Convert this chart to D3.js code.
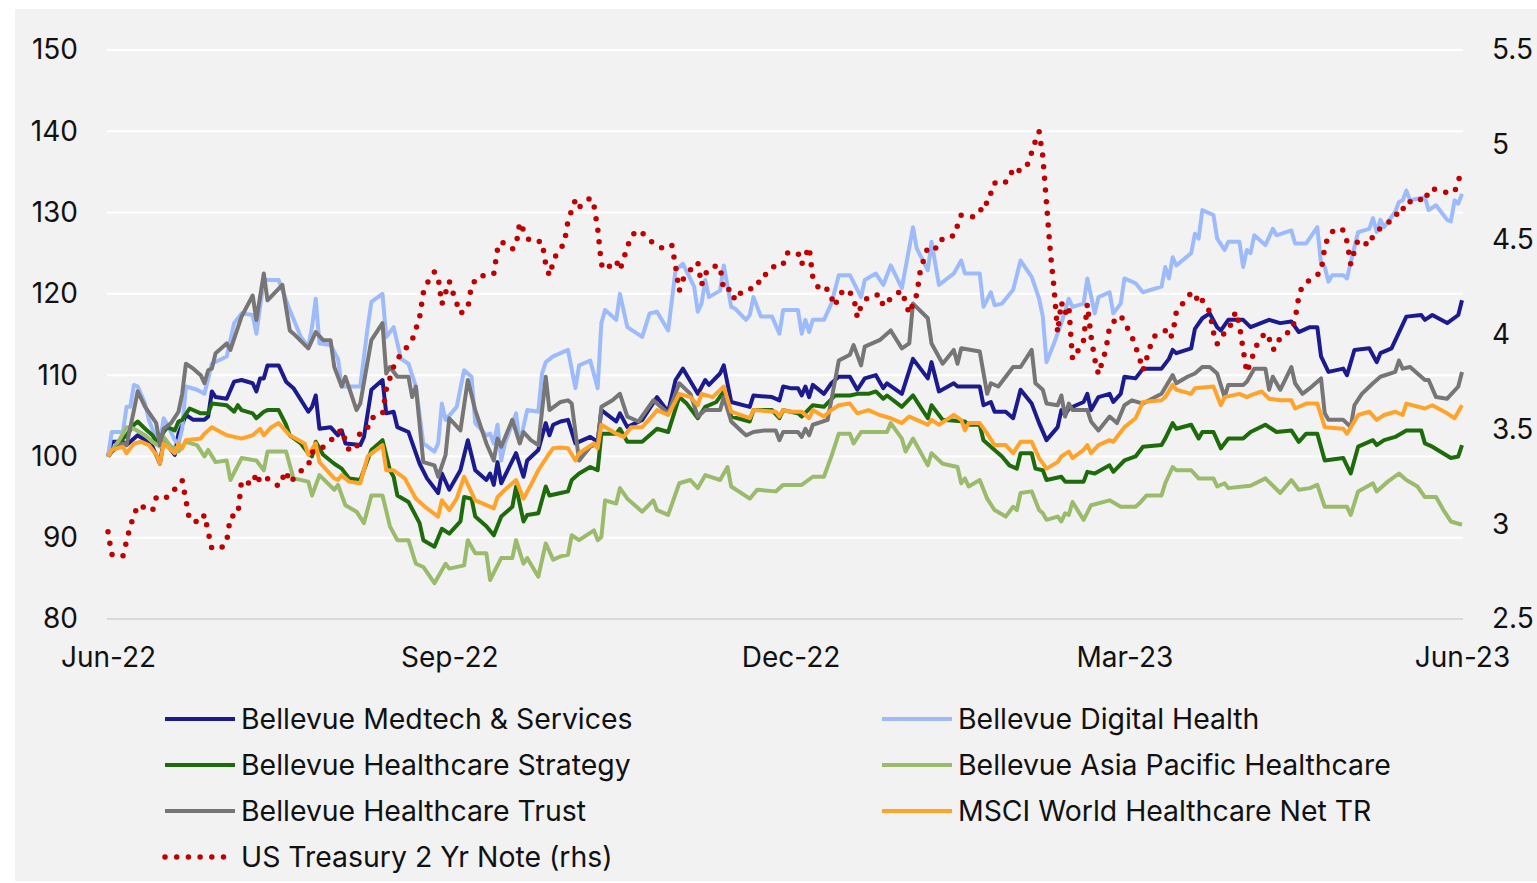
<!DOCTYPE html>
<html>
<head>
<meta charset="utf-8">
<script src="https://cdn.jsdelivr.net/npm/d3@7"></script>
<style>
  html, body { margin: 0; padding: 0; background: #fff; }
  svg { display: block; font-family: Inter, "Noto Sans", sans-serif; }
</style>
</head>
<body>
<svg id="chart" width="1537" height="883"></svg>
<script>
// [days since 30 Jun 2022, value]; funds rebased to 100, treasury in %
const startDate = new Date(2022, 5, 30);
const endDate = new Date(2023, 5, 30);

const medtech = [[0,100],[1,101.8],[4,101.8],[5,101.4],[8,102.6],[10,102],[12,101.2],[14,99.1],[15,102],[18,100.2],[19,102.8],[21,105.1],[23,104.5],[26,104.5],[27,104.9],[28,108],[29,107.3],[32,107.1],[34,109.2],[36,109.4],[39,109],[40,108],[41,109.6],[42,109.6],[43,111.2],[46,111.2],[48,109.2],[50,108.4],[54,105.5],[55,106.1],[56,107.5],[57,103.4],[60,103.6],[62,102.6],[63,103.2],[64,101.6],[68,101.4],[69,102.4],[71,108.2],[74,109.4],[75,105.3],[77,105.5],[78,103.6],[81,103],[84,99.1],[86,97.3],[89,95.5],[90,97.9],[92,95.9],[95,98.3],[97,102],[99,98.3],[102,97.1],[103,97.9],[104,96.5],[105,99.3],[106,96.7],[110,100.4],[112,97.5],[113,99.5],[116,100.8],[118,104.1],[119,102.6],[120,103.9],[122,104.3],[124,104.5],[126,101.6],[130,102.4],[132,101.8],[133,105.7],[137,104.3],[138,105.3],[140,103.6],[144,104.5],[148,107.3],[151,105.5],[153,109.4],[155,110.8],[159,107.7],[161,109.4],[162,108.8],[165,110.2],[166,111.2],[168,106.7],[173,106.1],[174,107.5],[179,107.3],[181,106.9],[182,108.6],[184,108.4],[186,108.4],[187,107.5],[188,108.6],[189,107.3],[190,108.8],[193,107.7],[195,109],[197,109.8],[200,109.8],[202,108.2],[204,109.6],[207,110],[209,108.4],[210,109],[214,107.7],[217,112],[219,110.8],[221,109.6],[222,111.6],[224,108],[228,109],[229,108.6],[235,108.6],[236,106.3],[238,106.7],[239,105.5],[242,105.5],[244,104.7],[246,108.2],[249,106.5],[251,104.1],[253,102],[256,103.6],[257,105.7],[258,105.1],[259,105.9],[263,106.7],[264,107.7],[265,105.7],[267,107.3],[270,107.7],[271,106.7],[273,107.7],[274,109.8],[277,109.6],[279,110.8],[284,110.8],[286,112],[287,113.1],[288,112.7],[292,113.3],[293,115.7],[295,117],[297,117.6],[299,115.9],[300,115.5],[302,116.8],[306,116.8],[308,115.9],[313,116.8],[316,116.4],[319,116.6],[321,115.3],[324,115.9],[326,115.9],[327,112.3],[329,110.4],[333,110.8],[334,110],[336,113.1],[340,113.3],[342,111.6],[343,112.7],[346,113.3],[350,117.2],[354,117.4],[355,116.8],[357,117.4],[361,116.4],[364,117.4],[365,119.2]];

const digital = [[0,100],[1,103],[4,103],[5,106.1],[6,106.1],[7,108.8],[8,108.6],[10,106.5],[11,104.5],[13,102.2],[14,101.6],[15,104.7],[16,103.9],[18,102],[19,101.6],[20,103.4],[21,108.6],[24,108.2],[26,107.7],[28,111.4],[32,112.3],[34,116.4],[36,117.6],[39,117.4],[40,115.1],[42,121.7],[46,121.7],[49,118],[52,114.7],[54,113.5],[55,115.9],[56,119.4],[57,113.9],[60,113.7],[62,112],[63,108.6],[68,108.6],[70,115.9],[71,119],[74,120],[75,114.7],[77,115.9],[79,112],[81,111.4],[83,108.6],[85,101.6],[88,100.6],[89,101.6],[90,106.5],[91,104.5],[94,106.1],[96,110.6],[98,109.8],[99,104.1],[102,102.6],[103,102.8],[104,101.6],[105,103.9],[106,99.5],[107,101.6],[110,105.3],[111,101.6],[113,105.7],[116,105.5],[117,110.2],[118,111.6],[120,112.3],[122,112.7],[124,113.1],[126,108.4],[127,111.2],[130,111.8],[132,108.4],[133,116.4],[134,118],[137,116.8],[138,120],[140,115.9],[144,114.7],[146,117.6],[148,117.8],[151,115.5],[153,122.9],[155,123.7],[158,120.9],[159,117.8],[160,118.8],[161,121.7],[162,119.6],[165,120.4],[166,123.5],[168,118.4],[169,118.2],[172,116.8],[173,117.4],[174,119.6],[176,117.2],[179,117.2],[181,115.1],[182,118],[184,118],[186,118],[187,115.1],[188,116.8],[189,115.3],[190,116.8],[193,116.8],[195,118.8],[197,122.3],[200,122.3],[203,119.6],[204,121.7],[207,122.5],[209,121.1],[211,123.5],[214,120.7],[217,128.2],[218,125.6],[221,122.9],[222,126.4],[224,121.1],[228,122.5],[230,124.1],[231,122.5],[235,122.5],[236,118.4],[238,120.2],[239,118.6],[241,118.8],[244,120.5],[246,124.1],[249,122.1],[251,119.4],[252,117.2],[253,111.6],[255,113.9],[257,116.4],[259,119.4],[260,118.4],[263,118.8],[264,121.9],[266,117.6],[267,119.6],[270,120.2],[271,117.6],[273,118.8],[274,121.9],[277,121.3],[279,120.2],[284,120.9],[285,123.3],[286,121.9],[287,124.5],[288,123.5],[292,125],[293,127.4],[294,126.8],[295,130.3],[298,129.7],[299,126.8],[301,125.4],[302,126.4],[305,126.4],[306,123.3],[307,125.4],[308,125],[309,127.2],[312,126],[314,128],[315,127.2],[319,127.8],[320,126.2],[323,126.2],[326,128.2],[327,123.7],[328,123.3],[329,121.5],[330,122.3],[333,122.3],[334,121.9],[335,123.9],[337,127.6],[340,128],[341,129.3],[342,127.6],[343,129.1],[344,128.2],[347,130.1],[348,131.3],[349,131.5],[350,132.7],[351,131.5],[353,131.7],[355,131.9],[356,130.3],[358,130.9],[361,129.1],[362,128.9],[363,131.5],[364,131.1],[365,132.3]];

const strategy = [[0,100],[3,101.8],[5,102.6],[7,103.9],[8,104.3],[10,103.4],[12,102.6],[13,101.8],[14,102.2],[15,103],[16,103.6],[18,103.2],[19,104.3],[20,104.5],[22,105.9],[25,105.3],[27,105.3],[28,106.5],[32,106.3],[34,105.5],[35,106.3],[36,105.7],[39,105.3],[40,104.7],[42,105.5],[43,105.7],[46,105.7],[48,103.9],[49,102.6],[52,101.6],[54,100.4],[55,100],[56,101.8],[58,100.2],[61,99.1],[63,98.5],[65,97.3],[68,97.1],[71,100.8],[74,102],[76,98.3],[77,97.5],[78,95.2],[81,94.4],[84,91.8],[85,89.7],[88,88.9],[90,91.1],[92,90.5],[95,92],[96,95],[98,94.8],[99,92.6],[102,91.4],[104,90.3],[106,92.6],[109,93.8],[110,96.3],[112,92],[113,92.8],[116,93],[118,96.3],[119,95.2],[122,95.5],[124,95.7],[125,97.1],[127,97.9],[130,98.7],[132,98.3],[133,102.8],[137,102.8],[138,103.4],[140,101.8],[144,101.8],[146,102.6],[148,103.4],[151,103],[154,107.3],[156,106.5],[159,104.7],[161,106.1],[164,106.7],[166,108],[168,104.9],[173,104.3],[174,105.7],[179,105.7],[181,104.7],[182,105.7],[184,105.5],[186,105.3],[187,104.9],[190,106.3],[193,106.1],[196,107.5],[200,107.5],[202,107.7],[205,107.7],[207,108],[209,107.1],[210,107.5],[214,106.1],[217,107.5],[219,106.1],[221,104.7],[222,106.3],[225,104.5],[231,104.3],[232,103.9],[235,103.9],[236,102],[239,100.8],[241,100],[243,98.9],[245,98.5],[246,100.4],[249,100.4],[250,98.5],[252,98.3],[253,97.1],[257,97.5],[258,96.9],[263,96.9],[264,98.1],[266,97.9],[270,98.9],[271,98.1],[274,99.5],[277,100],[279,101.2],[284,101.4],[285,102.2],[287,104.1],[288,103.4],[292,103.9],[294,102.2],[295,103],[298,103],[300,101],[302,102.2],[306,102.2],[308,103],[312,103.9],[315,103],[319,103.2],[321,101.8],[323,102.8],[326,102.8],[328,99.5],[333,99.8],[335,97.9],[337,101.2],[341,102],[342,101.4],[344,102],[347,102.4],[350,103.2],[354,103.2],[355,101.6],[357,101.2],[362,99.8],[364,100],[365,101.4]];

const asiaPac = [[0,100],[3,102],[5,103.6],[7,103.4],[10,102.6],[12,101.8],[14,101.2],[15,102.4],[17,101.2],[18,101],[19,100.6],[21,101.8],[24,101.4],[26,100],[27,100.8],[29,99.3],[32,99.5],[33,97.1],[36,99.8],[40,99.5],[42,98.3],[43,100.6],[48,100.6],[50,97.3],[54,96.9],[55,95.2],[57,97.7],[61,95.9],[62,96.5],[64,94],[67,93.2],[69,91.8],[71,95.2],[74,95.2],[76,91.4],[78,89.7],[81,89.7],[83,86.8],[85,86.4],[88,84.4],[91,86.8],[92,86.2],[96,86.6],[97,89.7],[99,88.1],[102,88.1],[103,84.8],[106,87.5],[109,87.5],[110,89.7],[112,86.8],[113,87.5],[116,85.2],[118,89.3],[120,87.3],[122,87.7],[124,87.9],[125,90.3],[127,89.7],[131,90.9],[132,89.7],[133,90.1],[134,94.6],[137,94.2],[138,96.1],[140,94.8],[144,93.2],[147,94.6],[148,93.4],[151,92.8],[154,96.7],[157,97.1],[159,96.1],[161,97.7],[165,97.1],[167,98.7],[168,96.3],[173,94.8],[175,95.9],[180,95.7],[182,96.5],[184,96.5],[187,96.5],[190,97.5],[193,97.5],[195,100],[197,102.8],[200,102.8],[201,101.6],[203,103],[210,103],[211,104.1],[214,102.2],[215,100.6],[217,102.2],[221,98.9],[222,100.4],[225,99.1],[229,98.7],[230,96.7],[231,97.3],[232,96.3],[235,97.1],[237,94.8],[239,93.4],[242,92.6],[244,93.8],[245,93.4],[246,95.5],[249,95.7],[251,93.4],[252,93],[253,92.2],[256,92.6],[257,92],[258,93],[259,92.8],[260,94.4],[263,92.2],[265,94],[270,94.6],[273,93.8],[277,93.8],[278,94.2],[280,95.2],[284,95.2],[285,96.7],[287,98.7],[288,98.3],[292,98.3],[294,97.3],[298,97.3],[299,96.3],[301,96.7],[302,96.1],[306,96.3],[308,96.4],[312,97.3],[316,95.5],[319,97.1],[321,95.9],[324,96.1],[326,96.5],[328,93.8],[334,93.8],[335,92.8],[337,95.7],[341,96.7],[342,95.7],[345,96.9],[348,97.9],[350,97.1],[353,96.3],[355,95],[358,95],[360,93.4],[362,92],[365,91.6]];

const trust = [[0,100],[1,100.6],[4,101.6],[5,101.4],[7,105.7],[8,108],[10,106.1],[13,104.1],[14,101.4],[15,103.4],[17,104.1],[19,105.5],[20,107.7],[21,111.4],[23,110.8],[25,110],[26,109],[27,110.6],[28,110.8],[29,112.7],[32,113.9],[33,113.1],[36,117.2],[39,119.8],[40,116.8],[42,122.5],[43,119.2],[47,121.1],[49,115.5],[50,115.1],[54,113.3],[56,115.3],[58,114.3],[60,114.3],[61,111],[63,108.6],[64,109.8],[67,105.7],[68,106.5],[71,114.3],[74,116.4],[75,110.2],[76,111],[78,109.8],[81,109.8],[82,107.3],[83,108.6],[85,99.3],[88,98.9],[89,97.5],[91,100.2],[92,104.7],[95,103.2],[97,109.4],[99,105.7],[102,101.6],[104,99.5],[105,102.2],[106,101.2],[109,104.5],[111,101.6],[112,103],[114,102],[116,101.4],[118,109.8],[119,105.7],[122,106.7],[124,106.9],[125,106.5],[127,99.5],[130,101.2],[132,101.6],[133,106.1],[136,106.9],[138,107.7],[140,104.9],[143,104.3],[147,106.9],[151,105.3],[154,109],[157,107.7],[159,104.9],[161,105.7],[165,105.7],[166,107.3],[168,104.3],[171,103],[172,102.6],[174,103],[177,103.2],[180,103.2],[181,102],[182,103],[184,103],[186,103],[187,102.4],[188,103.4],[189,102.6],[190,103.9],[194,104.5],[197,111.8],[200,112.5],[201,113.7],[203,111.2],[204,113.5],[208,114.3],[211,115.5],[214,113.3],[216,113.9],[217,118.8],[221,117],[222,113.9],[225,111.4],[228,113.1],[229,111.4],[230,113.3],[235,112.9],[237,107.7],[238,109],[240,108.6],[244,111],[246,111],[249,113.1],[250,109],[252,108.2],[253,106.5],[256,106.3],[257,107.5],[258,104.9],[259,106.5],[260,105.7],[264,105.7],[265,104.3],[267,103.2],[270,104.9],[272,104.1],[274,106.3],[276,106.9],[279,106.5],[284,107.7],[287,110],[288,109],[291,109.8],[293,110.2],[295,111],[297,111],[299,110.2],[301,107.3],[302,108.8],[306,108.8],[307,109.2],[309,110.8],[312,110.8],[313,108.2],[314,109.8],[316,108.2],[319,111],[320,109],[322,107.7],[324,108.4],[327,109.6],[328,105.3],[329,104.5],[333,104.5],[335,103.6],[336,106.3],[338,107.7],[341,109],[343,109.8],[347,110.4],[348,111.8],[349,110.8],[351,111],[355,109.4],[356,109.4],[358,107.3],[361,107.1],[364,108.6],[365,110.4]];

const msci = [[0,100],[1,100.8],[4,101.2],[5,100.4],[7,101.6],[9,101.8],[11,101.4],[13,100.2],[14,99.1],[15,101.6],[18,100.4],[19,101.6],[20,101],[21,102],[25,102.2],[26,102.8],[28,103.6],[32,102.6],[34,102.4],[36,102.2],[39,102.6],[41,103.4],[42,102.6],[44,103.6],[46,104.1],[49,102.6],[53,101.6],[54,100.2],[56,101.6],[57,99.3],[61,97.3],[62,97.1],[63,97.7],[65,96.9],[68,96.7],[70,100],[74,101.4],[75,98.3],[77,98.3],[80,97.3],[83,94.8],[86,93.6],[89,92.6],[90,94.6],[92,93.4],[94,94.8],[96,97.5],[99,94.6],[102,94],[104,93.6],[105,95],[107,95.9],[110,97.1],[112,94.8],[114,96.5],[116,98.3],[119,100.4],[120,101],[122,101.1],[124,101],[126,99.5],[127,100.4],[131,101.6],[132,101],[133,103.9],[137,102.8],[139,102.4],[141,103.6],[144,103.6],[147,105.1],[148,105.7],[151,105.1],[154,107.7],[157,107.3],[159,106.3],[160,107.7],[163,107.3],[166,108.6],[168,105.5],[173,104.7],[174,105.7],[180,105.5],[181,104.9],[182,105.7],[184,105.5],[187,105.5],[189,104.7],[190,105.7],[193,104.9],[195,105.7],[197,106.3],[200,106.5],[202,105.3],[205,105.7],[208,105.1],[211,104.7],[214,104.1],[216,104.9],[218,104.5],[221,103.9],[222,104.5],[224,103.9],[226,104.5],[228,105.1],[230,104.5],[231,103.2],[232,104.1],[235,104.1],[237,102.8],[239,101.4],[242,101.4],[244,100.4],[246,101.8],[249,101.8],[251,99.8],[253,98.5],[256,99.3],[257,100],[259,100.6],[260,99.8],[263,100.8],[264,101.4],[265,100.4],[267,101.4],[270,102],[271,101.8],[274,103.6],[277,104.7],[279,106.7],[284,106.9],[285,107.3],[287,108.8],[288,108.2],[292,107.7],[293,108.4],[298,108.6],[300,106.3],[301,107.3],[305,107.7],[307,107.3],[308,107.5],[311,108],[313,107.1],[316,106.9],[319,106.9],[320,105.9],[323,106.5],[326,106.5],[328,103.6],[333,103.4],[334,102.8],[337,105.1],[340,105.5],[342,104.5],[344,105.1],[347,105.5],[349,105.1],[350,106.5],[355,105.9],[357,106.3],[361,105.3],[363,104.7],[365,106.3]];

const treasury = [[0,2.96],[1,2.84],[4,2.83],[6,2.99],[8,3.10],[11,3.08],[12,3.07],[13,3.14],[15,3.13],[17,3.16],[19,3.21],[20,3.23],[22,3.02],[25,3.01],[26,3.05],[28,2.87],[31,2.88],[32,2.91],[33,3.04],[35,3.05],[36,3.23],[39,3.21],[40,3.27],[41,3.22],[43,3.24],[46,3.20],[47,3.24],[48,3.28],[49,3.22],[50,3.24],[52,3.28],[54,3.31],[55,3.38],[56,3.38],[59,3.42],[61,3.46],[63,3.50],[64,3.44],[65,3.39],[67,3.40],[68,3.49],[70,3.51],[71,3.56],[74,3.58],[75,3.71],[77,3.83],[78,3.87],[80,3.92],[82,3.97],[84,4.09],[85,4.22],[86,4.27],[88,4.33],[89,4.30],[90,4.16],[92,4.28],[93,4.22],[95,4.11],[97,4.14],[98,4.26],[100,4.31],[103,4.31],[104,4.32],[105,4.45],[106,4.49],[109,4.45],[110,4.47],[111,4.59],[113,4.51],[114,4.49],[117,4.49],[118,4.37],[119,4.31],[120,4.38],[121,4.43],[123,4.48],[124,4.60],[126,4.71],[127,4.67],[130,4.72],[131,4.68],[132,4.56],[133,4.37],[134,4.34],[137,4.39],[138,4.34],[139,4.40],[141,4.52],[143,4.55],[145,4.52],[147,4.48],[150,4.45],[152,4.47],[153,4.36],[154,4.23],[155,4.29],[157,4.34],[159,4.38],[160,4.26],[161,4.32],[163,4.36],[165,4.36],[166,4.23],[168,4.24],[169,4.18],[171,4.23],[175,4.25],[176,4.31],[178,4.32],[180,4.37],[182,4.37],[183,4.43],[186,4.43],[187,4.37],[189,4.46],[190,4.30],[192,4.23],[194,4.24],[196,4.15],[197,4.21],[199,4.24],[201,4.20],[202,4.09],[203,4.15],[205,4.20],[208,4.21],[209,4.15],[212,4.21],[214,4.23],[216,4.11],[218,4.21],[219,4.34],[221,4.46],[222,4.45],[224,4.46],[225,4.51],[228,4.52],[230,4.63],[233,4.62],[235,4.64],[236,4.70],[237,4.69],[239,4.80],[241,4.79],[243,4.82],[244,4.88],[246,4.86],[248,4.90],[250,5.02],[251,5.07],[252,4.94],[253,4.69],[254,4.44],[255,4.25],[256,4.01],[257,4.17],[258,4.11],[259,4.15],[260,3.87],[262,3.93],[263,3.97],[264,4.16],[265,3.99],[266,3.87],[267,3.79],[269,3.92],[270,4.04],[272,4.09],[273,4.10],[276,3.99],[278,3.88],[279,3.81],[281,3.94],[282,3.99],[285,4.02],[286,3.98],[287,4.00],[288,4.12],[290,4.17],[292,4.22],[293,4.22],[294,4.16],[295,4.18],[297,4.12],[298,4.01],[299,3.95],[301,4.01],[302,4.02],[304,4.12],[305,4.05],[306,3.92],[307,3.80],[309,3.91],[310,3.96],[312,4.01],[313,3.98],[314,3.92],[315,3.93],[316,3.99],[319,4.02],[320,4.08],[321,4.20],[322,4.26],[325,4.30],[327,4.33],[328,4.46],[329,4.52],[331,4.56],[333,4.55],[334,4.49],[335,4.37],[336,4.44],[337,4.50],[340,4.47],[341,4.52],[343,4.56],[345,4.59],[347,4.61],[348,4.67],[350,4.66],[351,4.70],[353,4.72],[355,4.70],[356,4.76],[357,4.77],[360,4.75],[362,4.75],[363,4.75],[364,4.81],[365,4.87]];

const leftTicks = [80, 90, 100, 110, 120, 130, 140, 150];
const rightTicks = [2.5, 3, 3.5, 4, 4.5, 5, 5.5];
const xTickDates = ["2022-06-30", "2022-09-30", "2022-12-31", "2023-03-31", "2023-06-30"];

const seriesNames = ["Bellevue Medtech & Services", "Bellevue Digital Health", "Bellevue Healthcare Strategy",
  "Bellevue Asia Pacific Healthcare", "Bellevue Healthcare Trust", "MSCI World Healthcare Net TR", "US Treasury 2 Yr Note (rhs)"];
const seriesColors = ["#1b1b8f", "#9dbbfb", "#1e6b0c", "#9bbb6c", "#777575", "#ffa32b", "#c00000"];

const svg = d3.select("#chart");
const W = 1537;
const FONT = 28;

svg.append("rect").attr("x", 15).attr("y", 9).attr("width", W - 15).attr("height", 872).attr("fill", "#f2f2f2");

const x = d3.scaleTime().domain([startDate, endDate]).range([108, 1462]);
const yL = d3.scaleLinear().domain([80, 150]).range([619, 50]);
const yR = d3.scaleLinear().domain([2.5, 5.5]).range([619, 50]);

// gridlines
svg.append("g").selectAll("line").data(leftTicks.slice(1)).join("line")
  .attr("x1", 107).attr("x2", 1463)
  .attr("y1", d => yL(d)).attr("y2", d => yL(d))
  .attr("stroke", "#fff").attr("stroke-width", 2);
svg.append("line").attr("x1", 107).attr("x2", 1463).attr("y1", yL(80)).attr("y2", yL(80))
  .attr("stroke", "#d9d9d9").attr("stroke-width", 2);

// axes
const axL = svg.append("g").attr("transform", "translate(90,0)")
  .call(d3.axisLeft(yL).tickValues(leftTicks).tickSize(0).tickPadding(12));
const axR = svg.append("g").attr("transform", "translate(1480,0)")
  .call(d3.axisRight(yR).tickValues(rightTicks).tickSize(0).tickPadding(12).tickFormat(d3.format("")));
const axB = svg.append("g").attr("transform", "translate(0,630)")
  .call(d3.axisBottom(x).tickValues(xTickDates.map(d => d3.timeParse("%Y-%m-%d")(d))).tickSize(0).tickPadding(17)
    .tickFormat(d3.timeFormat("%b-%y")));
[axL, axR, axB].forEach(a => {
  a.select(".domain").remove();
  a.selectAll("text").attr("font-size", FONT).attr("fill", "#111").attr("font-family", "Inter, 'Noto Sans', sans-serif");
});

// fund lines, drawn in series order (later ones on top)
const dayToDate = d => d3.timeDay.offset(startDate, d);
const line = d3.line().x(d => x(dayToDate(d[0]))).y(d => yL(d[1]));
const funds = [medtech, digital, strategy, asiaPac, trust, msci];
funds.forEach((s, k) => {
  svg.append("path").datum(s).attr("d", line)
    .attr("fill", "none").attr("stroke", seriesColors[k]).attr("stroke-width", 4).attr("stroke-linejoin", "round");
});

// treasury, dotted on right axis
const tsyLine = d3.line().x(d => x(dayToDate(d[0]))).y(d => yR(d[1]));
svg.append("path").datum(treasury).attr("d", tsyLine)
  .attr("fill", "none").attr("stroke", seriesColors[6]).attr("stroke-width", 5.5)
  .attr("stroke-linecap", "round").attr("stroke-dasharray", "0 11.7");

// legend
const legPos = [[165, 719], [882, 719], [165, 765], [882, 765], [165, 811], [882, 811], [165, 857]];
const leg = svg.append("g");
seriesNames.forEach((name, i) => {
  const [lx, ly] = legPos[i];
  const ln = leg.append("line").attr("x1", lx).attr("y1", ly).attr("y2", ly).attr("stroke", seriesColors[i]);
  if (i === 6) ln.attr("x2", lx + 60).attr("stroke-width", 5.5).attr("stroke-linecap", "round").attr("stroke-dasharray", "0 11.7");
  else ln.attr("x2", lx + 70).attr("stroke-width", 4);
  leg.append("text").attr("x", lx + 76).attr("y", ly).attr("dy", "0.35em")
    .attr("font-size", 28.4).attr("fill", "#111").text(name);
});
</script>
</body>
</html>
